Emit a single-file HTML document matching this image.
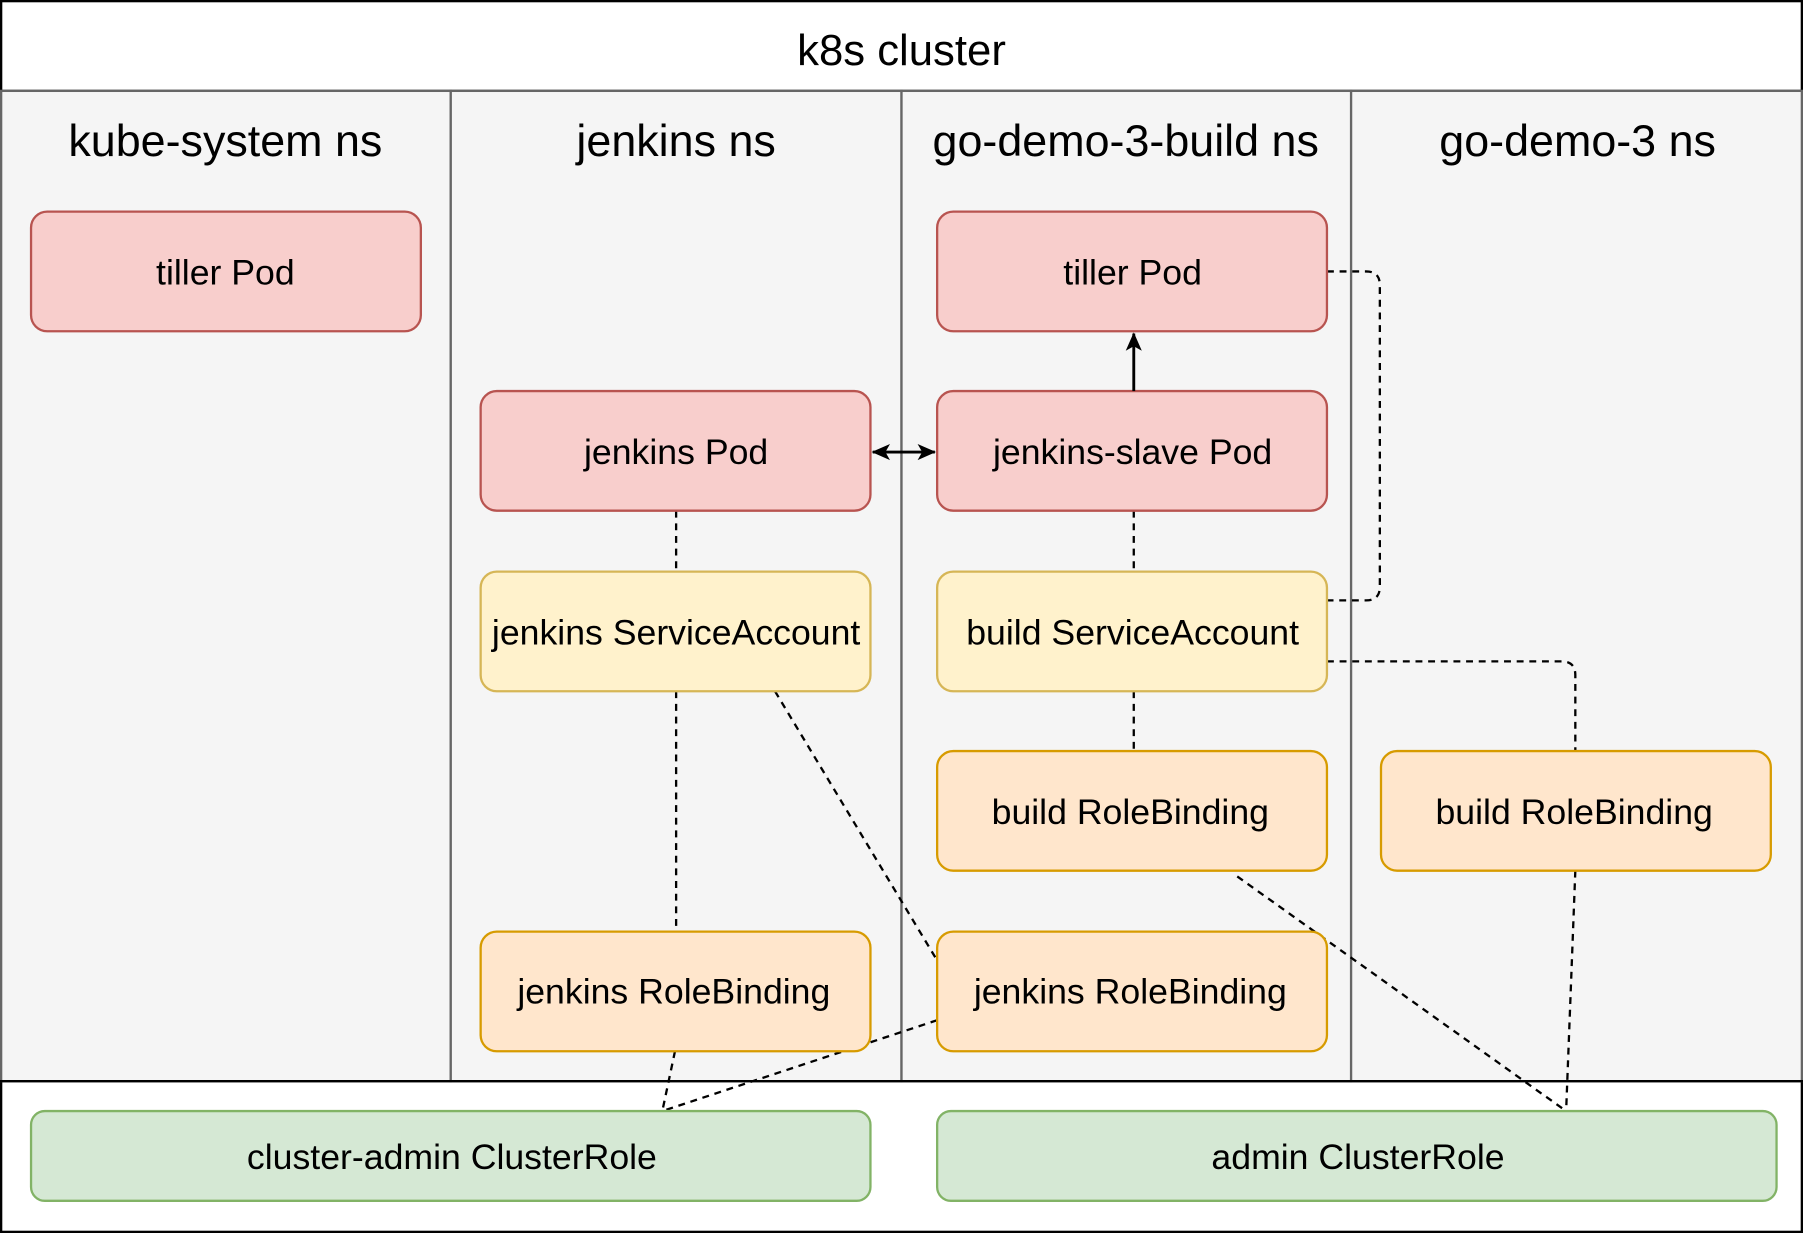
<!DOCTYPE html>
<html><head><meta charset="utf-8"><style>
html,body{margin:0;padding:0;background:#fff;}
svg{display:block;}
text{font-family:"Liberation Sans",sans-serif;fill:#000;text-anchor:middle;dominant-baseline:central;}
</style></head><body>
<svg width="1803" height="1233" viewBox="0 0 1568 1072" preserveAspectRatio="none">
<defs>
<marker id="ah" markerWidth="16" markerHeight="16" refX="15" refY="8" orient="auto" markerUnits="userSpaceOnUse"><path d="M0,1 L16,8 L0,15 L4,8 z" fill="#000"/></marker>
<marker id="as" markerWidth="16" markerHeight="16" refX="1" refY="8" orient="auto" markerUnits="userSpaceOnUse"><path d="M16,1 L0,8 L16,15 L12,8 z" fill="#000"/></marker>
</defs>
<rect x="1" y="1" width="1566" height="1070" fill="#fff" stroke="#000" stroke-width="2"/>
<line x1="0" y1="79" x2="1568" y2="79" stroke="#000" stroke-width="2"/>
<text x="784" y="44" font-size="38">k8s cluster</text>
<g fill="#f5f5f5" stroke="#666" stroke-width="2">
<rect x="1" y="79" width="391" height="861"/>
<rect x="392" y="79" width="392" height="861"/>
<rect x="784" y="79" width="391" height="861"/>
<rect x="1175" y="79" width="392" height="861"/>
</g>
<line x1="0" y1="940" x2="1568" y2="940" stroke="#000" stroke-width="2"/>
<g font-size="39">
<text x="196" y="122">kube-system ns</text>
<text x="588" y="122">jenkins ns</text>
<text x="979" y="122">go-demo-3-build ns</text>
<text x="1372" y="122">go-demo-3 ns</text>
</g>
<g stroke="#000" stroke-width="2" stroke-dasharray="6,5" fill="none">
<path d="M588,444 V497"/>
<path d="M986,444 V497"/>
<path d="M588,601 V810"/>
<path d="M674,601 L815,835"/>
<path d="M986,601 V653"/>
<path d="M1154,236 H1188 Q1200,236 1200,248 V510 Q1200,522 1188,522 H1154"/>
<path d="M1154,575 H1358 Q1370,575 1370,587 V653"/>
<path d="M587,914 L576,966"/>
<path d="M815,887 L576,966"/>
<path d="M1076,762 L1362,966"/>
<path d="M1370,757 L1362,966"/>
</g>
<g font-size="31">
<g fill="#f8cecc" stroke="#b85450" stroke-width="2">
<rect x="27" y="184" width="339" height="104" rx="14"/>
<rect x="815" y="184" width="339" height="104" rx="14"/>
<rect x="418" y="340" width="339" height="104" rx="14"/>
<rect x="815" y="340" width="339" height="104" rx="14"/>
</g>
<g fill="#fff2cc" stroke="#d6b656" stroke-width="2">
<rect x="418" y="497" width="339" height="104" rx="14"/>
<rect x="815" y="497" width="339" height="104" rx="14"/>
</g>
<g fill="#ffe6cc" stroke="#d79b00" stroke-width="2">
<rect x="815" y="653" width="339" height="104" rx="14"/>
<rect x="1201" y="653" width="339" height="104" rx="14"/>
<rect x="418" y="810" width="339" height="104" rx="14"/>
<rect x="815" y="810" width="339" height="104" rx="14"/>
</g>
<g fill="#d5e8d4" stroke="#82b366" stroke-width="2">
<rect x="27" y="966" width="730" height="78" rx="12"/>
<rect x="815" y="966" width="730" height="78" rx="12"/>
</g>
<text x="196" y="237">tiller Pod</text>
<text x="985" y="237">tiller Pod</text>
<text x="588" y="393">jenkins Pod</text>
<text x="985" y="393">jenkins-slave Pod</text>
<text x="588" y="550">jenkins ServiceAccount</text>
<text x="985" y="550">build ServiceAccount</text>
<text x="983" y="706">build RoleBinding</text>
<text x="1369" y="706">build RoleBinding</text>
<text x="586" y="862">jenkins RoleBinding</text>
<text x="983" y="862">jenkins RoleBinding</text>
<text x="393" y="1006">cluster-admin ClusterRole</text>
<text x="1181" y="1006">admin ClusterRole</text>
</g>
<g stroke="#000" stroke-width="2.5">
<line x1="986" y1="340" x2="986" y2="290" marker-end="url(#ah)"/>
<line x1="759" y1="393" x2="813" y2="393" marker-start="url(#as)" marker-end="url(#ah)"/>
</g>
</svg>
</body></html>
